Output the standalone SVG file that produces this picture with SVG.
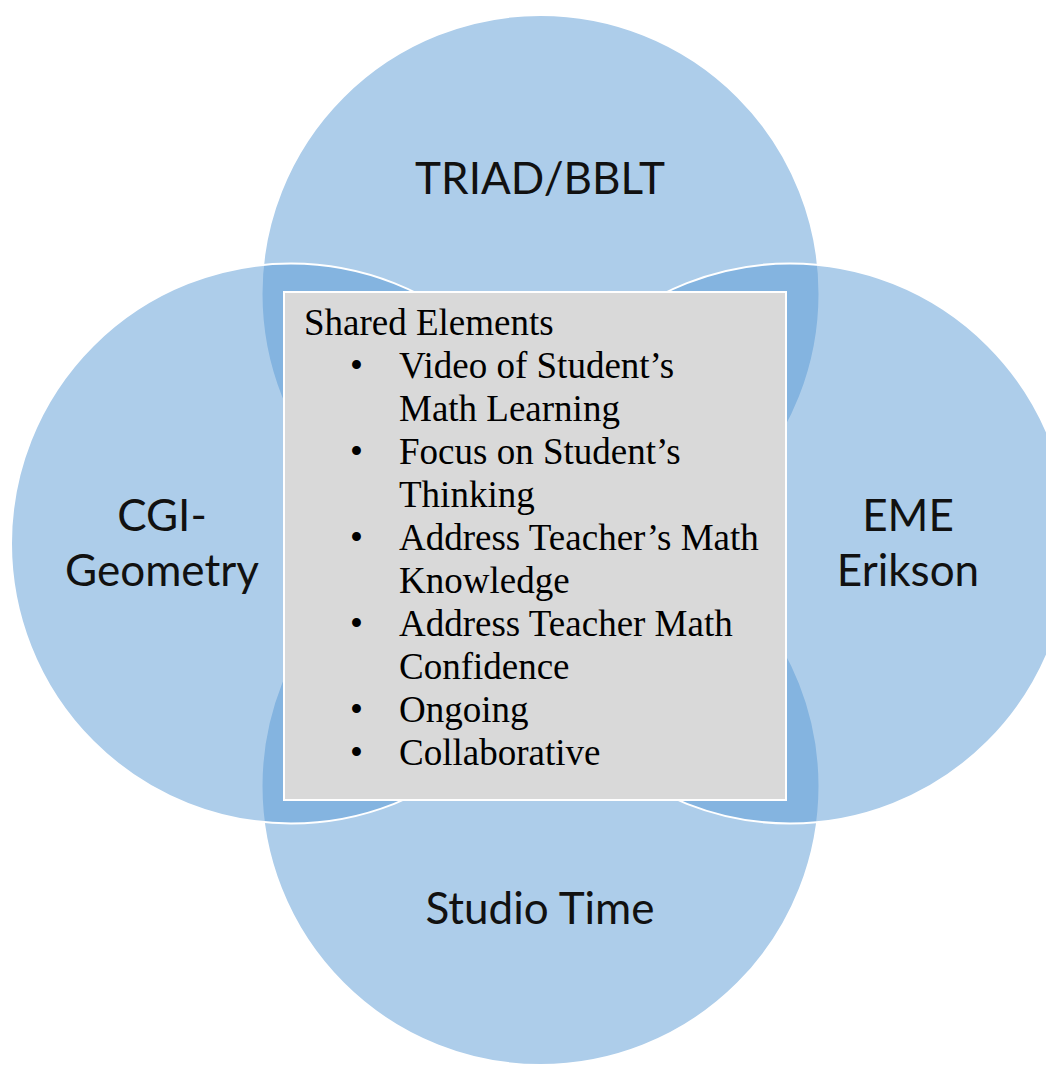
<svg xmlns="http://www.w3.org/2000/svg" width="1046" height="1068" viewBox="0 0 1046 1068">
<style>
.c{fill:#5B9BD5;fill-opacity:0.5;stroke:#ffffff;stroke-width:2}
.lbl{font-family:Lato,"Open Sans",sans-serif;font-size:44px;fill:#111;text-anchor:middle}
.t{font-family:"Liberation Serif","Times New Roman",serif;font-size:37px;fill:#000}
</style>
<rect width="1046" height="1068" fill="#ffffff"/>
<g id="circle-triad"><circle class="c" cx="540.5" cy="294" r="279"/></g>
<g id="circle-studio"><circle class="c" cx="540.5" cy="786" r="279"/></g>
<g id="circle-cgi"><circle class="c" cx="291" cy="543.5" r="280"/></g>
<g id="circle-eme"><circle class="c" cx="790" cy="543.5" r="280"/></g>
<g id="labels">
<text class="lbl" x="540" y="194">TRIAD/BBLT</text>
<text class="lbl" x="162" y="531">CGI-</text>
<text class="lbl" x="162" y="586">Geometry</text>
<text class="lbl" x="908" y="531">EME</text>
<text class="lbl" x="908" y="586">Erikson</text>
<text class="lbl" x="540" y="924">Studio Time</text>
</g>
<g id="shared">
<rect x="284" y="292" width="502" height="508" fill="#D9D9D9" stroke="#ffffff" stroke-width="2"/>
<text class="t" x="304" y="335">Shared Elements</text>
<g class="t">
<text class="t" x="350" y="378">•</text><text class="t" x="399" y="378">Video of Student’s</text>
<text class="t" x="399" y="421">Math Learning</text>
<text class="t" x="350" y="464">•</text><text class="t" x="399" y="464">Focus on Student’s</text>
<text class="t" x="399" y="507">Thinking</text>
<text class="t" x="350" y="550">•</text><text class="t" x="399" y="550">Address Teacher’s Math</text>
<text class="t" x="399" y="593">Knowledge</text>
<text class="t" x="350" y="636">•</text><text class="t" x="399" y="636">Address Teacher Math</text>
<text class="t" x="399" y="679">Confidence</text>
<text class="t" x="350" y="722">•</text><text class="t" x="399" y="722">Ongoing</text>
<text class="t" x="350" y="765">•</text><text class="t" x="399" y="765">Collaborative</text>
</g>
</g>
</svg>
